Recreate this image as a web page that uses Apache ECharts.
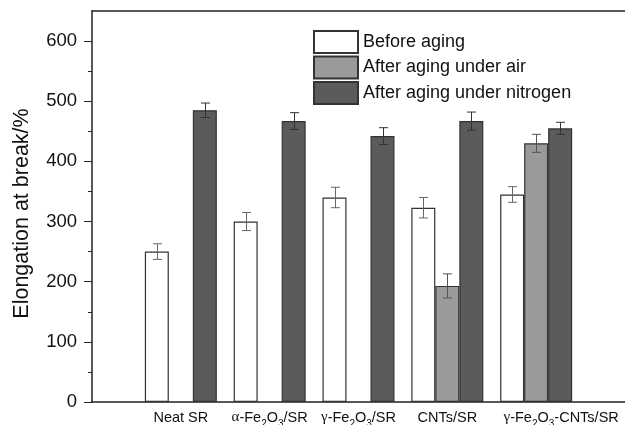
<!DOCTYPE html>
<html>
<head>
<meta charset="utf-8">
<script src="https://cdn.jsdelivr.net/npm/echarts@6/dist/echarts.min.js"></script>
<style>html,body{margin:0;padding:0;background:#fff;}#c{width:625px;height:425px;}</style>
</head>
<body>
<div id="c"></div>
<script>
const categories = ['Neat SR', 'α-Fe2O3/SR', 'γ-Fe2O3/SR', 'CNTs/SR', 'γ-Fe2O3-CNTs/SR'];
const seriesNames = ['Before aging', 'After aging under air', 'After aging under nitrogen'];
const beforeAging = [250, 300, 340, 323, 345];
const beforeAgingErr = [13, 15, 17, 17, 13];
const afterAir = [null, null, null, 193, 430];
const afterAirErr = [null, null, null, 20, 15];
const afterNitrogen = [485, 467, 442, 467, 455];
const afterNitrogenErr = [12, 14, 14, 15, 10];
const yTicks = [0, 100, 200, 300, 400, 500, 600];
const yMinorTicks = [50, 150, 250, 350, 450, 550];

const colors = ['#ffffff', '#9a9a9a', '#5b5b5b'];
const BAR_W = 24;
const axisData = [''].concat(categories, ['']);
const pad = arr => [null].concat(arr, [null]);

function errSeries(vals, errs, offset, color) {
  const data = [];
  vals.forEach((v, i) => { if (v != null) data.push([i + 1, v, errs[i]]); });
  return {
    type: 'custom',
    silent: true,
    z: 10,
    data: data,
    renderItem: function (params, api) {
      const x = api.value(0), y = api.value(1), e = api.value(2);
      const hi = api.coord([x, y + e]);
      const lo = api.coord([x, y - e]);
      const cx = Math.round(hi[0] + offset) + 0.5;
      const cap = 4.5;
      const st = { stroke: color, lineWidth: 1, fill: null };
      return {
        type: 'group',
        children: [
          { type: 'line', shape: { x1: cx, y1: hi[1], x2: cx, y2: lo[1] }, style: st },
          { type: 'line', shape: { x1: cx - cap, y1: hi[1], x2: cx + cap, y2: hi[1] }, style: st },
          { type: 'line', shape: { x1: cx - cap, y1: lo[1], x2: cx + cap, y2: lo[1] }, style: st }
        ]
      };
    }
  };
}

const chart = echarts.init(document.getElementById('c'), null, { renderer: 'canvas' });
const FONT = 'Liberation Sans, Arial, sans-serif';
const barStyle = c => ({ color: c, borderColor: '#333', borderWidth: 1.2 });

chart.setOption({
  animation: false,
  backgroundColor: '#fff',
  textStyle: { fontFamily: FONT },
  grid: { left: 92, right: 0, top: 11, bottom: 23, containLabel: false, outerBoundsMode: 'none' },
  legend: {
    orient: 'vertical',
    left: 308, top: 25,
    itemWidth: 44, itemHeight: 22, itemGap: 1.5,
    icon: 'rect',
    data: seriesNames,
    textStyle: { fontSize: 18, lineHeight: 20, color: '#111', fontFamily: FONT }
  },
  xAxis: [{
    type: 'category',
    data: axisData,
    boundaryGap: false,
    axisLine: { onZero: false, lineStyle: { color: '#222', width: 1.5 } },
    axisTick: { show: false },
    axisLabel: {
      interval: 0,
      margin: 8,
      color: '#111',
      fontSize: 14,
      formatter: function (v, idx) {
        if (!v) return '';
        const parts = v.split(/(α|γ|Fe2O3)/).filter(s => s.length);
        const s = parts.map(p => {
          if (p === 'α' || p === 'γ') return '{gr|' + p + '}';
          if (p === 'Fe2O3') return '{n|Fe}{sub|2}{n|O}{sub|3}';
          return '{n|' + p + '}';
        }).join('');
        return idx === categories.length ? '{sp| }' + s : s;
      },
      rich: {
        n: { fontSize: 14.5, color: '#111', fontFamily: FONT, verticalAlign: 'bottom', padding: [0, 0, 4, 0] },
        gr: { fontSize: 15, color: '#111', fontFamily: 'Liberation Serif, serif', verticalAlign: 'bottom', padding: [0, 0, 4, 0] },
        sub: { fontSize: 10, color: '#111', fontFamily: FONT, verticalAlign: 'bottom' },
        sp: { width: 50, fontSize: 14 }
      }
    },
    splitLine: { show: false }
  }, {
    type: 'category',
    position: 'top',
    data: axisData,
    boundaryGap: false,
    axisLine: { show: true, onZero: false, lineStyle: { color: '#222', width: 1.5 } },
    axisTick: { show: false },
    axisLabel: { show: false }
  }],
  yAxis: [{
    type: 'value',
    min: 0, max: 650,
    interval: 50,
    name: 'Elongation at break/%',
    nameLocation: 'middle',
    nameGap: 59,
    nameTextStyle: { fontSize: 21.5, color: '#111', fontFamily: FONT, padding: [0, 14, 0, 0] },
    axisLine: { show: true, lineStyle: { color: '#222', width: 1.5 } },
    axisTick: { show: true, inside: false, length: 8, customValues: yTicks, lineStyle: { color: '#222' } },
    axisLabel: { color: '#111', fontSize: 18.5, margin: 15, customValues: yTicks },
    splitLine: { show: false }
  }, {
    type: 'value',
    min: 0, max: 650,
    position: 'left',
    axisLine: { show: false },
    axisTick: { show: true, length: 4, customValues: yMinorTicks, lineStyle: { color: '#222' } },
    axisLabel: { show: false },
    splitLine: { show: false }
  }],
  series: [
    { name: seriesNames[0], type: 'bar', data: pad(beforeAging), barWidth: BAR_W, barGap: '0%', itemStyle: barStyle(colors[0]) },
    { name: seriesNames[1], type: 'bar', data: pad(afterAir), barWidth: BAR_W, barGap: '0%', itemStyle: barStyle(colors[1]) },
    { name: seriesNames[2], type: 'bar', data: pad(afterNitrogen), barWidth: BAR_W, barGap: '0%', itemStyle: barStyle(colors[2]) },
    errSeries(beforeAging, beforeAgingErr, -BAR_W, '#666'),
    errSeries(afterAir, afterAirErr, 0, '#555'),
    errSeries(afterNitrogen, afterNitrogenErr, BAR_W, '#333')
  ]
});
</script>
</body>
</html>
